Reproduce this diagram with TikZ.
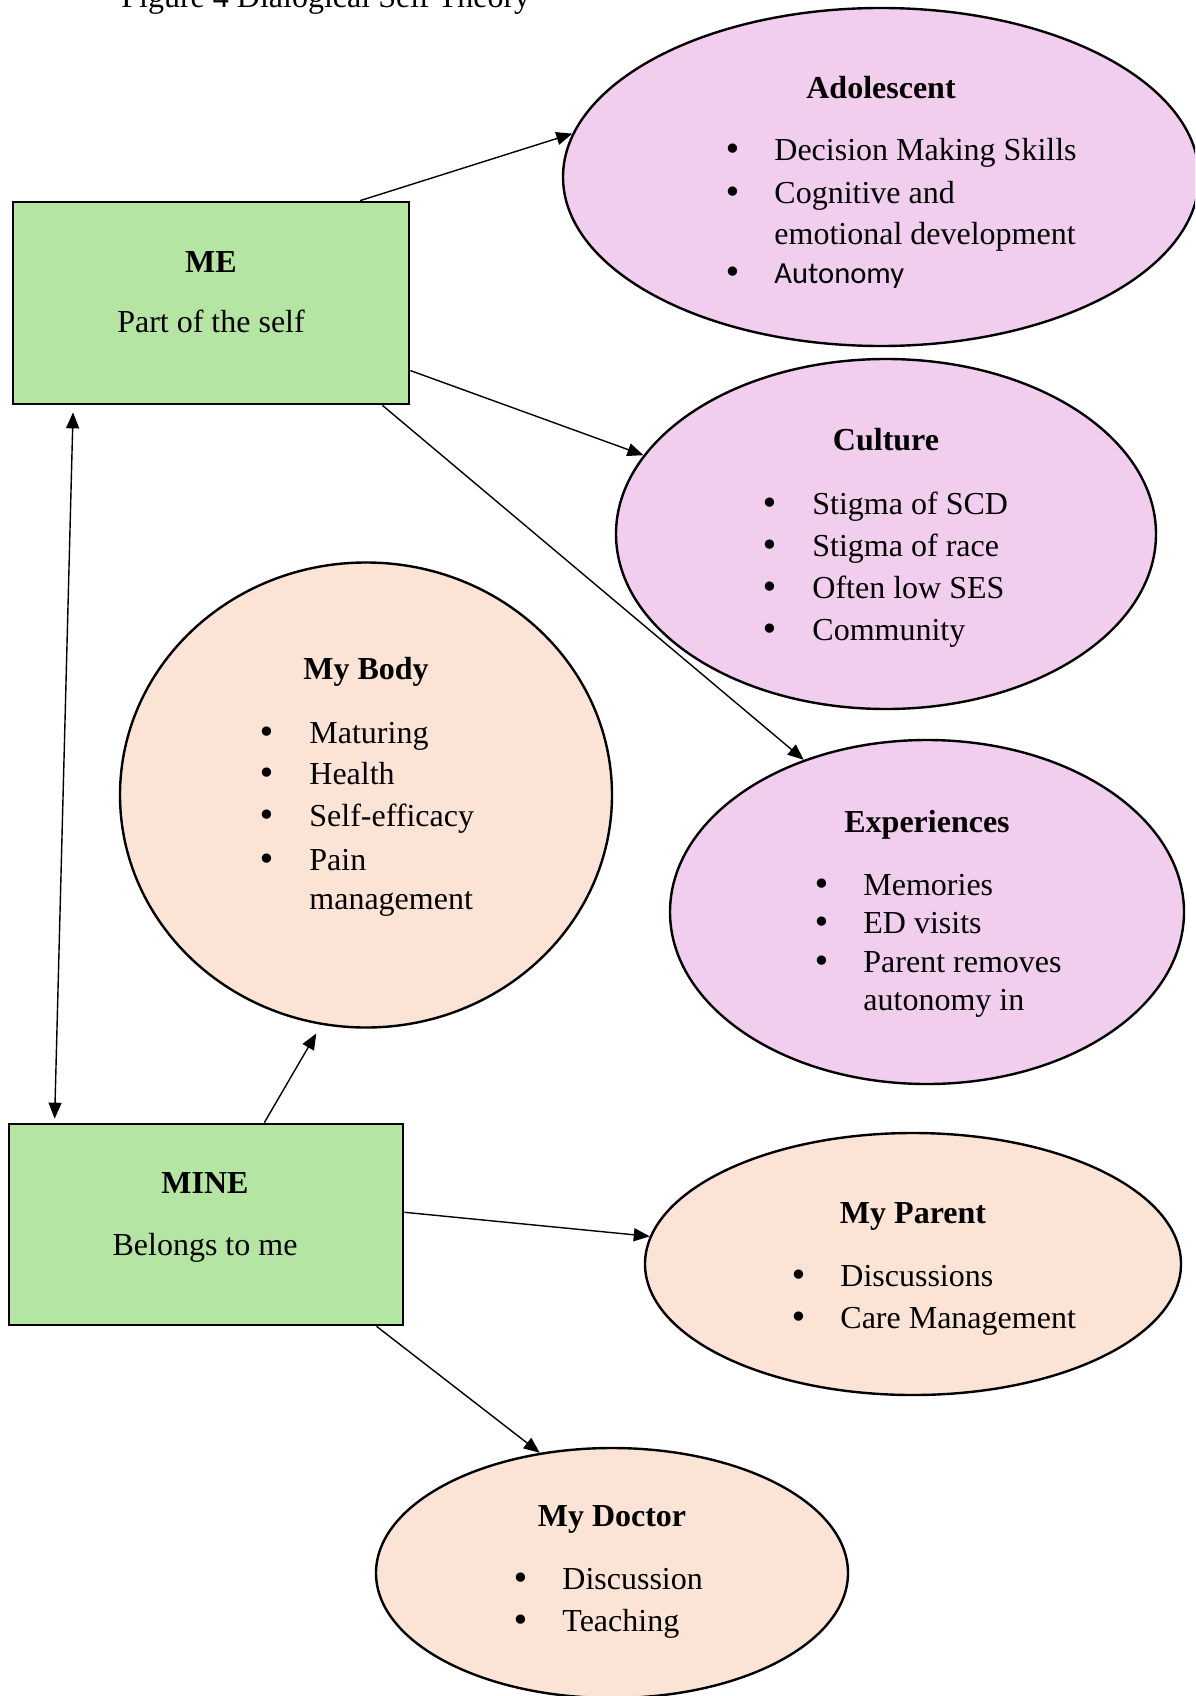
\documentclass[tikz,border=0pt]{standalone}
\usepackage{fontspec}
\setmainfont{Liberation Serif}
\newfontfamily\calibrifont{Carlito}
\newfontfamily\dejavufont{DejaVu Sans}
\usetikzlibrary{shapes.geometric,arrows.meta,calc}
\definecolor{boxgreen}{HTML}{B4E5A2}
\definecolor{pinkfill}{HTML}{F1CDEE}
\definecolor{peachfill}{HTML}{FBE4D5}
\newcommand\bigbullet{{\dejavufont •}}
\newcommand\lit[5]{%
  \node[bul] (#1b) at (#2,#4) {\bigbullet};
  \node[txt] (#1) at (#3,#4) {#5};}
\begin{document}
\begin{tikzpicture}[x=0.5pt,y=-0.5pt,
  every node/.style={font=\fontsize{16}{19}\selectfont},
  greenbox/.style={draw=black,line width=1.35pt,fill=boxgreen,rectangle,inner sep=0pt},
  pinkell/.style={draw=black,line width=1.2pt,fill=pinkfill,ellipse,inner sep=0pt},
  peachell/.style={draw=black,line width=1.2pt,fill=peachfill,ellipse,inner sep=0pt},
  ttl/.style={anchor=base,inner sep=0pt,font=\fontsize{16}{19}\selectfont\bfseries},
  txt/.style={anchor=base west,inner sep=0pt},
  ctxt/.style={anchor=base,inner sep=0pt},
  bul/.style={anchor=base,inner sep=0pt},
  arr/.style={line width=0.7pt,-{Triangle[length=8pt,width=6.5pt]}},
  darr/.style={line width=0.7pt,{Triangle[length=8pt,width=6.5pt]}-{Triangle[length=8pt,width=6.5pt]}}]
\clip (0,0) rectangle (1195,1696);
\fill[white] (0,0) rectangle (1195,1696);

% caption (cut off at top)
\node[txt] (cap) at (121,8) {Figure 4 Dialogical Self Theory};

% boxes
\node[greenbox,minimum width=198pt,minimum height=101pt] (me) at (211,303) {};
\node[greenbox,minimum width=197pt,minimum height=100.5pt] (mine) at (206,1224.5) {};

% ellipses
\node[pinkell,minimum width=318pt,minimum height=169pt] (ado) at (881,177) {};
\node[pinkell,minimum width=270pt,minimum height=175pt] (cul) at (886,534) {};
\node[pinkell,minimum width=257pt,minimum height=172pt] (exp) at (927,912) {};
\node[peachell,minimum width=246pt,minimum height=232.5pt] (body) at (366,795) {};
\node[peachell,minimum width=268pt,minimum height=131pt] (par) at (913,1264) {};
\node[peachell,minimum width=236pt,minimum height=125pt] (doc) at (612,1573) {};

% connectors
\draw[arr] ($(me.north west)!0.874!(me.north east)$) -- (ado.172);
\draw[arr] ($(me.north east)!0.83!(me.south east)$) -- (cul.162);
\draw[arr] ($(me.south west)!0.93!(me.south east)$) -- (exp.129);
\draw[darr] ($(me.south west)!0.154!(me.south east)$) ++(0,7) coordinate (meb)
   (mine.north west) ++(47,-4) coordinate (minet) (meb) -- (minet);
\draw[arr,shorten >=5pt] ($(mine.north west)!0.647!(mine.north east)$) -- (body.259);
\draw[arr] ($(mine.north east)!0.44!(mine.south east)$) -- (par.174);
\draw[arr] ($(mine.south west)!0.93!(mine.south east)$) -- (doc.121);

% ME / MINE texts
\node[ttl] (metitle) at (211,272) {ME};
\node[ctxt] (mesub) at (211,332) {Part of the self};
\node[ttl] (minetitle) at (205,1193) {MINE};
\node[ctxt] (minesub) at (205,1255) {Belongs to me};

% Adolescent
\node[ttl] (adot) at (881,99) {Adolescent};
\lit{ado1}{733}{774}{161}{Decision Making Skills}
\lit{ado2}{733}{774}{204}{Cognitive and}
\node[txt] (ado2c) at (774,244) {emotional development};
\lit{ado3}{733}{774}{284}{\calibrifont\fontsize{15.3}{18}\selectfont Autonomy}

% Culture
\node[ttl] (cult) at (886,450) {Culture};
\lit{cul1}{770}{812}{514}{Stigma of SCD}
\lit{cul2}{770}{812}{556}{Stigma of race}
\lit{cul3}{770}{812}{598}{Often low SES}
\lit{cul4}{770}{812}{640}{Community}

% My Body
\node[ttl] (bodyt) at (366,679) {My Body};
\lit{bod1}{267}{309}{743}{Maturing}
\lit{bod2}{267}{309}{784}{Health}
\lit{bod3}{267}{309}{826}{Self-efficacy}
\lit{bod4}{267}{309}{870}{Pain}
\node[txt] (bod4c) at (309,909) {management};

% Experiences
\node[ttl] (expt) at (927,832) {Experiences};
\lit{exp1}{822}{863}{895}{Memories}
\lit{exp2}{822}{863}{933}{ED visits}
\lit{exp3}{822}{863}{972}{Parent removes}
\node[txt] (exp3c) at (863,1010) {autonomy in};

% My Parent
\node[ttl] (part) at (913,1223) {My Parent};
\lit{par1}{799}{840}{1286}{Discussions}
\lit{par2}{799}{840}{1328}{Care Management}

% My Doctor
\node[ttl] (doct) at (612,1526) {My Doctor};
\lit{doc1}{521}{562}{1589}{Discussion}
\lit{doc2}{521}{562}{1631}{Teaching}
\end{tikzpicture}
\end{document}
